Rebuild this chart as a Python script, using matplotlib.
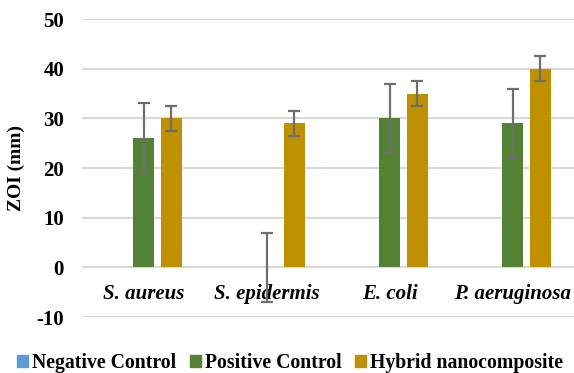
import numpy as np
import matplotlib.pyplot as plt
from matplotlib.patches import Patch

plt.rcParams['font.family'] = ['Liberation Serif', 'DejaVu Serif']
plt.rcParams['font.weight'] = 'bold'
plt.rcParams['axes.unicode_minus'] = False

organisms = ['S. aureus', 'S. epidermis', 'E. coli', 'P. aeruginosa']
series = ['Negative Control', 'Positive Control', 'Hybrid nanocomposite']
negative = [0, 0, 0, 0]
positive = [26, 0, 30, 29]
positive_err = [7, 7, 7, 7]
hybrid = [30, 29, 35, 40]
hybrid_err = [2.5, 2.5, 2.5, 2.5]

colors = ['#5B9BD5', '#548235', '#BF9000']

fig = plt.figure(figsize=(5.74, 3.73), dpi=100)
ax = fig.add_axes([0.143, 0.150, 0.857, 0.799])

x = np.arange(len(organisms))
w = 0.17
step = 0.226
errkw = dict(ecolor='#6E6E6E', elinewidth=1.6, capsize=4.5, capthick=1.6)

ax.bar(x - step, negative, w, color=colors[0], zorder=2)
ax.bar(x, positive, w, color=colors[1], yerr=positive_err, error_kw=errkw, zorder=2)
ax.bar(x + step, hybrid, w, color=colors[2], yerr=hybrid_err, error_kw=errkw, zorder=2)

ax.set_xlim(-0.5, len(organisms) - 0.5)
ax.set_ylim(-10, 50)
ax.set_yticks(range(-10, 51, 10))
ax.yaxis.grid(True, color='#D9D9D9', linewidth=1.5, zorder=0)
ax.set_axisbelow(True)

for s in ['top', 'right', 'left']:
    ax.spines[s].set_visible(False)
# category labels sit under the zero line
ax.spines['bottom'].set_position(('data', 0))
ax.spines['bottom'].set_visible(False)

ax.set_xticks(x)
ax.set_xticklabels(organisms, fontstyle='italic', fontweight='bold', fontsize=15)
ax.tick_params(axis='x', length=0, pad=12)
ax.tick_params(axis='y', length=0, labelsize=15, pad=13)
for t in ax.get_yticklabels():
    t.set_fontweight('bold')

ax.set_ylabel('ZOI (mm)', fontsize=14, fontweight='bold', labelpad=8)

handles = [Patch(color=c) for c in colors]
fig.legend(handles, series, loc='center', bbox_to_anchor=(0.505, 0.028), ncol=3,
           frameon=False, fontsize=14.2, handlelength=0.55, handleheight=0.55,
           handletextpad=0.2, columnspacing=0.7, borderpad=0)

fig.savefig('out.png', dpi=100)
